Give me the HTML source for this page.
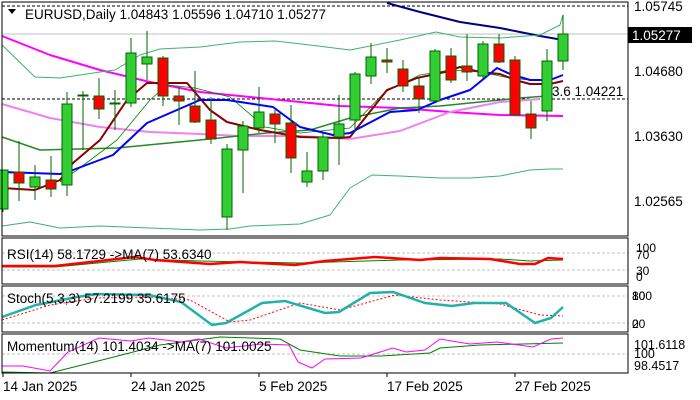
<!DOCTYPE html>
<html><head><meta charset="utf-8"><style>
html,body{margin:0;padding:0;background:#fff;}
svg{display:block;font-family:"Liberation Sans",sans-serif;}
</style></head><body>
<svg width="700" height="400" viewBox="0 0 700 400" xmlns="http://www.w3.org/2000/svg">
<rect width="700" height="400" fill="#fff"/>
<line x1="2" y1="34" x2="628" y2="34" stroke="#c0c0c0"/>
<line x1="2" y1="6" x2="628" y2="6" stroke="#000" stroke-dasharray="3,2"/>
<line x1="2" y1="99" x2="628" y2="99" stroke="#000" stroke-dasharray="3,2"/>
<g fill="none" stroke-linejoin="round">
<polyline stroke="#000080" stroke-width="2" points="387,3 420,12 460,22 500,28 540,36 563,40"/>
<polyline stroke="#ff00ff" stroke-width="2" points="2,36 50,55 100,70 150,82 200,92 250,97 300,102 340,106 400,108 450,112 500,115 563,116"/>
<polyline stroke="#ee82ee" stroke-width="2" points="2,104 50,118 100,127 150,132 200,134 240,136 300,136 350,139 400,131 450,112 500,102 540,99"/>
<polyline stroke="#3cb371" stroke-width="1" points="2,45 35,77 60,78 100,72 115,70 140,55 160,49 200,47 240,42 275,41 310,45 350,50 400,40 436,32 460,37 500,38 540,35 560,25 563,15"/>
<polyline stroke="#3cb371" stroke-width="1" points="2,226 30,222 60,228 100,226 150,228 200,230 230,229 250,226 300,224 330,215 350,188 372,175 400,176 440,178 470,178 500,176 530,170 550,169 563,169"/>
<polyline stroke="#228b22" stroke-width="1.5" points="2,137 40,150 117,148 200,140 267,133 310,130 350,118 400,108 440,106 480,102 520,98 547,96"/>
<polyline stroke="#008000" stroke-width="0.8" points="60,182 77,170 117,140 150,100 167,85 195,88 230,97 265,127 300,133 330,130 350,128 385,92 420,75 450,70 480,72 510,78 530,80 550,80"/>
<polyline stroke="#8b0000" stroke-width="2" points="2,188 35,190 60,180 73,163 100,140 127,100 147,83 187,83 210,110 227,122 260,130 300,137 340,138 350,137 387,90 417,78 445,72 460,67 480,72 500,74 515,80 530,84 550,84 563,81"/>
<polyline stroke="#0000ff" stroke-width="2" points="2,172 60,174 73,170 113,155 147,123 200,100 227,100 273,107 300,127 333,135 350,133 390,112 417,110 440,100 470,90 497,68 510,74 530,80 550,80 563,75"/>
</g>
<g stroke="#006400" stroke-width="1">
<line x1="3" y1="170" x2="3" y2="212"/><line x1="19" y1="141" x2="19" y2="201"/><line x1="35" y1="165" x2="35" y2="200"/><line x1="51" y1="156" x2="51" y2="197"/><line x1="67" y1="92" x2="67" y2="196"/><line x1="83" y1="91" x2="83" y2="150"/><line x1="99" y1="78" x2="99" y2="119"/><line x1="115" y1="90" x2="115" y2="130"/><line x1="131" y1="38" x2="131" y2="107"/><line x1="147" y1="31" x2="147" y2="80"/><line x1="163" y1="56" x2="163" y2="106"/><line x1="179" y1="87" x2="179" y2="125"/><line x1="195" y1="71" x2="195" y2="123"/><line x1="211" y1="97" x2="211" y2="144"/><line x1="227" y1="144" x2="227" y2="230"/><line x1="243" y1="121" x2="243" y2="193"/><line x1="259" y1="87" x2="259" y2="133"/><line x1="275" y1="110" x2="275" y2="143"/><line x1="291" y1="105" x2="291" y2="173"/><line x1="307" y1="152" x2="307" y2="187"/><line x1="323" y1="133" x2="323" y2="180"/><line x1="339" y1="95" x2="339" y2="165"/><line x1="355" y1="72" x2="355" y2="132"/><line x1="371" y1="43" x2="371" y2="84"/><line x1="387" y1="48" x2="387" y2="73"/><line x1="403" y1="60" x2="403" y2="92"/><line x1="419" y1="77" x2="419" y2="113"/><line x1="435" y1="49" x2="435" y2="101"/><line x1="451" y1="48" x2="451" y2="83"/><line x1="467" y1="34" x2="467" y2="81"/><line x1="483" y1="41" x2="483" y2="79"/><line x1="499" y1="34" x2="499" y2="63"/><line x1="515" y1="56" x2="515" y2="115"/><line x1="531" y1="101" x2="531" y2="139"/><line x1="547" y1="49" x2="547" y2="121"/><line x1="563" y1="15" x2="563" y2="70"/>
</g>
<g stroke="#006400" stroke-width="1">
<rect x="-2" y="170" width="10" height="39" fill="#32cd32"/>
<rect x="14" y="172" width="10" height="11" fill="#ff0000"/>
<rect x="30" y="177" width="10" height="10" fill="#32cd32"/>
<rect x="46" y="180" width="10" height="9" fill="#ff0000"/>
<rect x="62" y="104" width="10" height="81" fill="#32cd32"/>
<rect x="78" y="95" width="10" height="1" fill="#32cd32"/>
<rect x="94" y="96" width="10" height="13" fill="#ff0000"/>
<rect x="110" y="103" width="10" height="1" fill="#ff0000"/>
<rect x="126" y="53" width="10" height="50" fill="#32cd32"/>
<rect x="142" y="57" width="10" height="7" fill="#32cd32"/>
<rect x="158" y="58" width="10" height="38" fill="#ff0000"/>
<rect x="174" y="96" width="10" height="5" fill="#ff0000"/>
<rect x="190" y="106" width="10" height="16" fill="#ff0000"/>
<rect x="206" y="120" width="10" height="19" fill="#ff0000"/>
<rect x="222" y="149" width="10" height="68" fill="#32cd32"/>
<rect x="238" y="126" width="10" height="24" fill="#32cd32"/>
<rect x="254" y="112" width="10" height="16" fill="#32cd32"/>
<rect x="270" y="114" width="10" height="10" fill="#ff0000"/>
<rect x="286" y="123" width="10" height="35" fill="#ff0000"/>
<rect x="302" y="171" width="10" height="11" fill="#32cd32"/>
<rect x="318" y="137" width="10" height="34" fill="#32cd32"/>
<rect x="334" y="124" width="10" height="13" fill="#32cd32"/>
<rect x="350" y="74" width="10" height="46" fill="#32cd32"/>
<rect x="366" y="57" width="10" height="19" fill="#32cd32"/>
<rect x="382" y="60" width="10" height="2" fill="#ff0000"/>
<rect x="398" y="69" width="10" height="17" fill="#ff0000"/>
<rect x="414" y="86" width="10" height="13" fill="#ff0000"/>
<rect x="430" y="51" width="10" height="50" fill="#32cd32"/>
<rect x="446" y="56" width="10" height="24" fill="#ff0000"/>
<rect x="462" y="66" width="10" height="6" fill="#ff0000"/>
<rect x="478" y="44" width="10" height="32" fill="#32cd32"/>
<rect x="494" y="44" width="10" height="18" fill="#ff0000"/>
<rect x="510" y="60" width="10" height="55" fill="#ff0000"/>
<rect x="526" y="114" width="10" height="14" fill="#ff0000"/>
<rect x="542" y="61" width="10" height="50" fill="#32cd32"/>
<rect x="558" y="34" width="10" height="27" fill="#32cd32"/>
</g>
<text x="552" y="96" font-size="13.5" fill="#000">3.6 1.04221</text>
<polygon points="8,9 16,9 12,14" fill="#000"/>
<text x="25" y="19" font-size="13.5" fill="#000">EURUSD,Daily  1.04843 1.05596 1.04710 1.05277</text>
<rect x="2" y="2" width="626" height="234" fill="none" stroke="#000"/>
<g font-size="13.5" fill="#000">
<text x="634" y="11">1.05745</text>
<text x="634" y="76">1.04680</text>
<text x="634" y="141">1.03630</text>
<text x="634" y="206">1.02565</text>
</g>
<rect x="628" y="27" width="64" height="16" fill="#000"/>
<text x="632" y="40" font-size="13.5" fill="#fff">1.05277</text>
<!-- RSI -->
<line x1="2" y1="253" x2="628" y2="253" stroke="#c0c0c0" stroke-dasharray="3,2"/>
<line x1="2" y1="270" x2="628" y2="270" stroke="#c0c0c0" stroke-dasharray="3,2"/>
<polyline fill="none" stroke="#008000" stroke-width="1" points="2,267 55,267 140,259 200,261 300,263 400,260 500,259 530,261 563,260"/>
<polyline fill="none" stroke="#ff0000" stroke-width="2.5" points="2,266 55,266 135,257 155,260 210,264 240,262 295,265 325,261 375,257 420,260 440,258 490,259 520,264 535,264 548,258 563,259"/>
<text x="7" y="259" font-size="13.5">RSI(14) 58.1729  -&gt;MA(7) 53.6340</text>
<rect x="2" y="238" width="626" height="46" fill="none" stroke="#000"/>
<g font-size="12"><text x="636" y="252">100</text><text x="636" y="259">70</text><text x="636" y="275">30</text><text x="636" y="281">0</text></g>
<!-- Stoch -->
<line x1="2" y1="296" x2="628" y2="296" stroke="#c0c0c0" stroke-dasharray="3,2"/>
<line x1="2" y1="323" x2="628" y2="323" stroke="#c0c0c0" stroke-dasharray="3,2"/>
<polyline fill="none" stroke="#ff0000" stroke-width="1" stroke-dasharray="2,2" points="2,320 50,305 97,298 150,297 190,300 230,322 250,320 300,303 340,310 395,295 440,300 500,304 540,315 563,316"/>
<polyline fill="none" stroke="#20b2aa" stroke-width="2.5" points="2,317 36,305 77,297 97,294 149,295 181,302 212,325 226,323 262,303 285,301 325,313 339,312 370,293 393,292 425,303 452,306 474,303 506,303 535,323 551,318 563,307"/>
<text x="7" y="303" font-size="13.5">Stoch(5,3,3) 57.2199 35.6175</text>
<rect x="2" y="286" width="626" height="46" fill="none" stroke="#000"/>
<g font-size="12"><text x="632" y="300">100</text><text x="632" y="300">80</text><text x="632" y="328">20</text><text x="632" y="328">0</text></g>
<!-- Momentum -->
<line x1="2" y1="354" x2="628" y2="354" stroke="#c0c0c0" stroke-dasharray="3,2"/>
<polyline fill="none" stroke="#008000" stroke-width="1" points="2,372 50,373 110,358 160,345 220,337 280,339 300,350 340,356 380,356 430,353 440,348 480,345 563,343"/>
<polyline fill="none" stroke="#ff00ff" stroke-width="1" points="2,366 23,366 50,371 68,352 99,338 131,341 149,338 181,342 199,339 226,348 262,344 289,345 298,362 312,368 325,359 361,358 393,348 406,352 425,350 440,339 470,344 497,342 533,347 551,339 563,338"/>
<text x="7" y="351" font-size="13.5">Momentum(14) 101.4034  -&gt;MA(7) 101.0025</text>
<rect x="2" y="334" width="626" height="39" fill="none" stroke="#000"/>
<g font-size="12.5"><text x="634" y="349">101.6118</text><text x="634" y="358">100</text><text x="634" y="370">98.4517</text></g>
<g stroke="#000"><line x1="3" y1="373" x2="3" y2="377"/><line x1="131" y1="373" x2="131" y2="377"/><line x1="259" y1="373" x2="259" y2="377"/><line x1="387" y1="373" x2="387" y2="377"/><line x1="515" y1="373" x2="515" y2="377"/></g>
<g font-size="13.5"><text x="3" y="391">14 Jan 2025</text><text x="131" y="391">24 Jan 2025</text><text x="259" y="391">5 Feb 2025</text><text x="387" y="391">17 Feb 2025</text><text x="515" y="391">27 Feb 2025</text></g>
</svg>
</body></html>
